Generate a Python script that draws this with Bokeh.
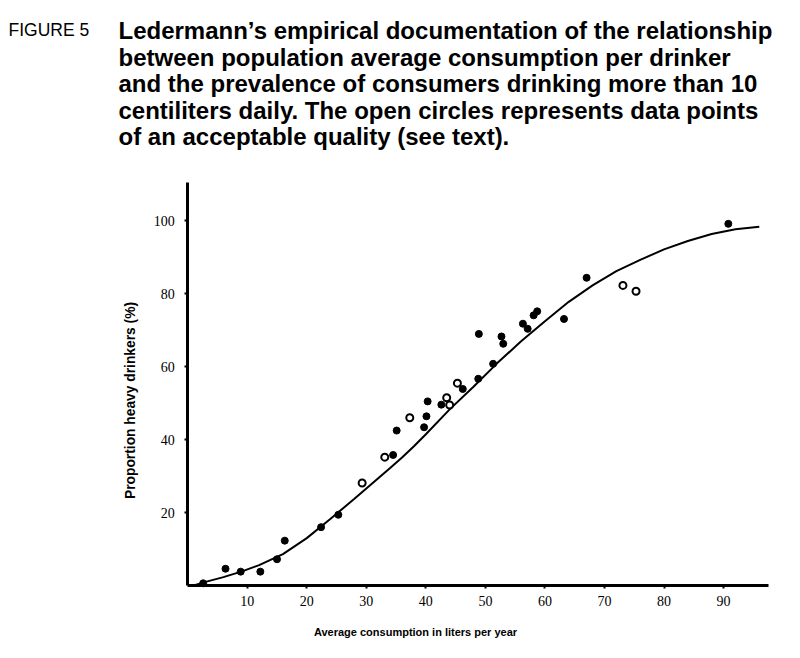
import math
from bokeh.plotting import figure
from bokeh.models import Range1d, FixedTicker, LinearAxis
from bokeh.core.properties import value
from bokeh.embed import file_html
from bokeh.resources import INLINE

# --- data ---
filled_x = [2.6, 6.35, 8.9, 12.2, 15.0, 16.3, 22.4, 25.3, 34.5, 35.1, 39.7, 40.1, 40.3,
            42.6, 46.2, 48.8, 48.9, 51.3, 52.7, 53.0, 56.3, 57.1, 58.1, 58.7, 63.2, 67.0, 90.8]
filled_y = [0.6, 4.6, 3.8, 3.8, 7.2, 12.3, 16.0, 19.4, 35.8, 42.5, 43.4, 46.4, 50.5,
            49.6, 53.9, 56.7, 69.0, 60.8, 68.3, 66.3, 71.8, 70.4, 74.1, 75.2, 73.1, 84.4, 99.2]
open_x = [29.3, 33.1, 37.3, 43.5, 44.0, 45.3, 73.1, 75.3]
open_y = [28.1, 35.2, 46.0, 51.5, 49.5, 55.5, 82.3, 80.7]

curve_x = [1, 3, 6, 9, 12, 16, 20, 24, 28, 30, 32, 34, 36, 38, 40, 44, 48, 52, 56, 60,
           64, 68, 72, 76, 80, 84, 88, 92, 96]
curve_y = [0.0, 1.0, 2.3, 3.8, 5.6, 8.6, 13.0, 18.3, 23.8, 26.6, 29.4, 32.2, 35.1, 38.2,
           41.5, 48.3, 54.5, 61.0, 67.0, 72.5, 77.8, 82.3, 86.2, 89.3, 92.2, 94.5, 96.4,
           97.7, 98.4]

x_ticks = [10, 20, 30, 40, 50, 60, 70, 80, 90]
y_ticks = [20, 40, 60, 80, 100]
x_axis_end = 97.5
y_axis_end = 110.5

title_lines = [
    "Ledermann\u2019s empirical documentation of the relationship",
    "between population average consumption per drinker",
    "and the prevalence of consumers drinking more than 10",
    "centiliters daily. The open circles represents data points",
    "of an acceptable quality (see text).",
]
fig_label = "FIGURE 5"
x_title = "Average consumption in liters per year"
y_title = "Proportion heavy drinkers (%)"

# --- canvas geometry (pixels) ---
W, H = 784, 642
X0_PX, X_PER_UNIT = 187.2, 5.954     # canvas x of value 0, pixels per unit
Y0_PX, Y_PER_UNIT = 585.0, 3.646     # canvas y (from top) of value 0, pixels per unit


def px_x(px):
    return (px - X0_PX) / X_PER_UNIT


def px_y(py):
    return (Y0_PX - py) / Y_PER_UNIT


p = figure(width=W, height=H, output_backend="svg", toolbar_location=None,
           x_range=Range1d(px_x(0), px_x(W)), y_range=Range1d(px_y(H), px_y(0)),
           x_axis_type=None, y_axis_type=None, min_border=0)
p.title.visible = False
p.outline_line_color = None
p.background_fill_color = "white"
p.border_fill_color = "white"

xaxis = LinearAxis(fixed_location=0, bounds=(0, x_axis_end), ticker=FixedTicker(ticks=x_ticks))
yaxis = LinearAxis(fixed_location=0, bounds=(0, y_axis_end), ticker=FixedTicker(ticks=y_ticks))
for ax in (xaxis, yaxis):
    ax.axis_line_width = 3
    ax.axis_line_color = "black"
    ax.major_tick_in = 0
    ax.major_tick_out = 3
    ax.major_tick_line_width = 2
    ax.minor_tick_line_color = None
    ax.major_label_text_font = "Liberation Serif"
    ax.major_label_text_font_size = "14px"
    ax.major_label_text_color = "black"
xaxis.major_label_standoff = 7
yaxis.major_label_standoff = 10
p.add_layout(xaxis, "below")
p.add_layout(yaxis, "left")

# curve and points
p.line(curve_x, curve_y, line_color="black", line_width=2)
p.scatter(filled_x, filled_y, size=7, marker="circle", fill_color="black", line_color="black")
p.scatter(open_x, open_y, size=7, marker="circle", fill_color="white", line_color="black",
          line_width=2)

# axis titles
p.text(x=[px_x(415)], y=[px_y(631)], text=[x_title], text_font=value("Liberation Sans"),
       text_font_style="bold", text_font_size="11px", text_align="center",
       text_baseline="middle", text_color="black")
p.text(x=[px_x(130)], y=[px_y(400)], text=[y_title], angle=math.pi / 2,
       text_font=value("Liberation Sans"), text_font_style="bold", text_font_size="13.8px",
       text_align="center", text_baseline="middle", text_color="black")

# figure caption
p.text(x=[px_x(8)], y=[px_y(29)], text=[fig_label], text_font=value("Liberation Sans"),
       text_font_size="17.5px", text_align="left", text_baseline="alphabetic",
       text_color="black")
baselines = [30.0, 56.5, 83.0, 109.5, 136.0]
p.text(x=[px_x(118)] * len(title_lines), y=[px_y(b) for b in baselines], text=title_lines,
       text_font=value("Liberation Sans"), text_font_style="bold", text_font_size="24px",
       text_align="left", text_baseline="alphabetic", text_color="black")

open("out.html", "w").write(file_html(p, INLINE))
